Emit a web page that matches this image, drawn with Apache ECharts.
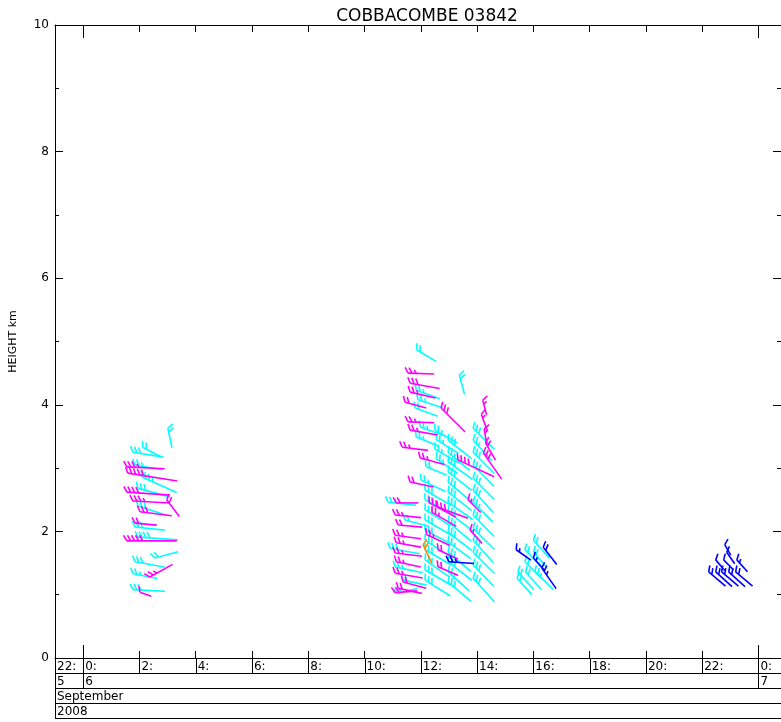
<!DOCTYPE html>
<html>
<head>
<meta charset="utf-8">
<script src="https://cdn.jsdelivr.net/npm/echarts@6/dist/echarts.min.js"></script>
<style>
  html, body { margin: 0; padding: 0; background: #fff; }
  #chart { width: 781px; height: 722px; }
</style>
</head>
<body>
<div id="chart"></div>
<script>
// hours after 00:00 on 6 September 2008, height in km
// each barb: [time (h), height (km), wind direction (deg, from), speed (kt)]
var cyanBarbs = [
    // 02-03 h
    [3.01, 3.63, 348, 20], [1.77, 3.25, 279, 31], [2.12, 3.33, 298, 21], [1.84, 3.05, 280, 28],
    [2.09, 2.86, 294, 38], [1.95, 2.68, 285, 33], [1.95, 2.40, 288, 30], [1.84, 2.07, 276, 30],
    [1.95, 1.91, 274, 40], [2.55, 1.58, 255, 24], [1.84, 1.52, 280, 30], [1.77, 1.33, 281, 25],
    [1.77, 1.08, 273, 32],
    // 11-14 h
    [11.85, 4.87, 301, 23], [13.37, 4.47, 345, 20],
    [11.84, 4.23, 290, 25], [11.90, 4.08, 288, 26], [11.80, 3.95, 290, 24], [11.98, 3.65, 290, 27],
    [11.84, 3.49, 292, 25], [12.19, 3.02, 292, 22], [12.01, 2.81, 295, 27],
    [12.50, 3.60, 300, 26], [12.55, 3.45, 302, 26], [12.50, 3.30, 300, 28], [12.55, 3.15, 305, 26],
    [10.84, 2.46, 276, 28], [11.44, 2.18, 285, 24], [10.91, 1.73, 280, 30], [11.09, 1.44, 282, 28],
    [11.37, 1.23, 282, 24], [11.20, 1.02, 255, 20],
    [12.15, 2.65, 300, 30], [12.15, 2.50, 298, 32], [12.15, 2.34, 302, 30], [12.15, 2.18, 300, 34],
    [12.15, 2.02, 298, 30], [12.15, 1.86, 303, 32], [12.15, 1.71, 300, 30], [12.15, 1.55, 305, 30],
    [12.15, 1.39, 300, 32], [12.15, 1.23, 302, 30],
    [12.97, 3.44, 308, 30], [12.97, 3.25, 310, 28], [12.97, 3.10, 306, 30], [12.97, 2.94, 308, 30],
    [12.97, 2.78, 310, 32], [12.97, 2.62, 308, 30], [12.97, 2.46, 305, 30], [12.97, 2.31, 308, 32],
    [12.97, 2.15, 310, 30], [12.97, 1.99, 308, 30], [12.97, 1.83, 306, 28], [12.97, 1.67, 310, 30],
    [12.97, 1.52, 308, 30], [12.97, 1.36, 312, 28], [12.97, 1.20, 310, 30],
    [13.86, 3.63, 315, 30], [13.86, 3.44, 318, 28], [13.86, 3.25, 315, 30], [13.86, 3.05, 316, 30],
    [13.86, 2.84, 315, 30], [13.86, 2.65, 318, 30], [13.86, 2.46, 315, 28], [13.86, 2.26, 316, 30],
    [13.86, 2.05, 315, 30], [13.86, 1.86, 318, 30], [13.86, 1.67, 315, 30], [13.86, 1.47, 316, 30],
    [13.86, 1.26, 318, 32],
    // 15-16 h
    [16.00, 1.86, 318, 24], [15.70, 1.71, 315, 22], [16.00, 1.67, 318, 20], [15.70, 1.52, 315, 24],
    [15.45, 1.36, 318, 24], [15.72, 1.36, 318, 24], [16.05, 1.37, 315, 26], [15.42, 1.26, 318, 22]
];

var magentaBarbs = [
    // 01-03 h
    [1.55, 3.02, 273, 38], [1.59, 2.92, 279, 50], [1.55, 2.62, 274, 43], [1.77, 2.48, 273, 37],
    [2.97, 2.50, 323, 21], [2.02, 2.31, 277, 32], [1.84, 2.13, 275, 22], [1.55, 1.85, 270, 50],
    [2.37, 1.28, 241, 26], [2.02, 1.04, 290, 12],
    // 11-14 h
    [11.55, 4.50, 272, 26], [11.62, 4.34, 280, 30], [11.62, 4.20, 283, 26], [11.44, 4.04, 285, 22],
    [12.72, 3.95, 315, 34], [11.55, 3.73, 272, 26], [11.62, 3.60, 280, 28], [11.34, 3.33, 277, 26],
    [11.98, 3.16, 285, 25], [11.62, 2.78, 282, 24],
    [11.13, 2.45, 270, 22], [11.09, 2.26, 276, 26], [11.20, 2.10, 275, 24], [11.09, 1.94, 278, 26],
    [11.13, 1.82, 280, 25], [11.09, 1.66, 277, 27], [11.13, 1.52, 282, 25], [11.09, 1.34, 280, 28],
    [11.37, 1.20, 285, 24], [11.09, 1.03, 265, 22], [11.20, 1.10, 282, 24],
    [12.30, 2.45, 298, 30], [12.40, 2.30, 300, 28], [12.61, 2.38, 290, 32], [12.20, 1.95, 295, 26],
    [12.61, 1.71, 295, 22], [12.61, 1.44, 293, 22], [13.68, 2.50, 315, 18], [13.75, 2.02, 318, 18],
    [13.32, 3.13, 295, 40], [14.22, 3.24, 325, 32],
    [14.20, 4.07, 345, 15], [14.15, 3.85, 340, 18], [14.25, 3.62, 350, 16], [14.30, 3.40, 330, 20]
];

var blueBarbs = [
    [13.00, 1.52, 274, 25],
    [15.39, 1.71, 305, 18], [16.35, 1.75, 322, 22], [16.00, 1.58, 318, 17], [16.30, 1.42, 325, 25],
    [22.80, 1.79, 330, 12], [22.87, 1.67, 325, 14],
    [22.48, 1.55, 320, 14], [22.76, 1.55, 315, 14], [23.23, 1.55, 318, 16],
    [22.23, 1.36, 310, 22], [22.48, 1.36, 312, 22], [22.69, 1.36, 310, 22], [22.94, 1.36, 312, 22],
    [23.19, 1.36, 310, 22]
];

var orangeBarbs = [
    [12.08, 1.79, 335, 20]
];

var hourTicks = [0, 2, 4, 6, 8, 10, 12, 14, 16, 18, 20, 22, 24];
var dayTicks = [0, 24];
var hourLabelPos = [-1, 0, 2, 4, 6, 8, 10, 12, 14, 16, 18, 20, 22, 24];
var hourLabels = ['22:', '0:', '2:', '4:', '6:', '8:', '10:', '12:', '14:', '16:', '18:', '20:', '22:', '0:'];
var dayLabelPos = [-1, 0, 24];
var dayLabels = ['5', '6', '7'];
var monthLabel = 'September';
var yearLabel = '2008';

var chart = echarts.init(document.getElementById('chart'));
var FONT = 'DejaVu Sans';

function barb(params, api) {
    var p = api.coord([api.value(0), api.value(1)]);
    var dir = api.value(2), spd = api.value(3);
    var color = api.visual('color');
    var b = (dir + 180) * Math.PI / 180;
    var ux = Math.sin(b), uy = -Math.cos(b);          // screen unit along the shaft
    var mx = Math.sin(b), my = Math.cos(b);            // same, y up
    var th = 120 * Math.PI / 180;
    var fx = mx * Math.cos(th) - my * Math.sin(th);
    var fy = -(mx * Math.sin(th) + my * Math.cos(th));
    var len = spd;
    var kids = [{
        type: 'line',
        shape: {x1: p[0], y1: p[1], x2: p[0] + ux * len, y2: p[1] + uy * len},
        style: {stroke: color, lineWidth: 1.6}
    }];
    var full = Math.floor(spd / 10), half = (spd % 10) >= 5 ? 1 : 0;
    for (var i = 0; i < full + half; i++) {
        var fl = i < full ? 6.5 : 4;
        var bx = p[0] + ux * i * 4, by = p[1] + uy * i * 4;
        kids.push({
            type: 'line',
            shape: {x1: bx, y1: by, x2: bx + fx * fl, y2: by + fy * fl},
            style: {stroke: color, lineWidth: 1.6}
        });
    }
    return {type: 'group', children: kids};
}

function barbSeries(name, data, color) {
    return {
        name: name, type: 'custom', renderItem: barb, data: data,
        encode: {x: 0, y: 1}, itemStyle: {color: color}, silent: true
    };
}

function xAx(pos, ticks, len, line) {
    return {
        type: 'value', position: pos, min: -1, max: 24.8,
        axisLine: {show: line, onZero: false, lineStyle: {color: '#000', width: 1}},
        axisTick: {show: true, inside: true, length: len, customValues: ticks, lineStyle: {color: '#000', width: 1}},
        axisLabel: {show: false}, splitLine: {show: false}
    };
}

function yAx(pos, labels) {
    return {
        type: 'value', position: pos, min: 0, max: 10, interval: 2,
        axisLine: {show: true, onZero: false, lineStyle: {color: '#000', width: 1}},
        axisTick: {show: true, inside: true, length: 8, lineStyle: {color: '#000'}},
        minorTick: {show: true, splitNumber: 2, length: 4, lineStyle: {color: '#000'}},
        axisLabel: {show: labels, color: '#000', fontSize: 12, fontFamily: FONT, margin: 6},
        splitLine: {show: false},
        name: labels ? 'HEIGHT km' : '', nameLocation: 'middle', nameGap: 36,
        nameTextStyle: {color: '#000', fontSize: 11, fontFamily: FONT}
    };
}

var option = {
    animation: false,
    backgroundColor: '#fff',
    title: {
        text: 'COBBACOMBE 03842', left: 422, top: 3, textAlign: 'center',
        textStyle: {color: '#000', fontSize: 17, fontWeight: 'normal', fontFamily: FONT}
    },
    grid: {left: 55, top: 25, width: 727, height: 633},
    xAxis: [
        xAx('bottom', hourTicks, 7, true),
        xAx('top', hourTicks, 7, true),
        xAx('bottom', dayTicks, 13, false),
        xAx('top', dayTicks, 13, false)
    ],
    yAxis: [yAx('left', true), yAx('right', false)],
    series: [
        barbSeries('cyan', cyanBarbs, '#00ffff'),
        barbSeries('magenta', magentaBarbs, '#ff00ff'),
        barbSeries('orange', orangeBarbs, '#ff8c00'),
        barbSeries('blue', blueBarbs, '#0000ff')
    ]
};
chart.setOption(option);

// date rows under the plot
var rows = [658, 673, 688, 703, 718];
var x0 = 55, x1 = 781;
var g = [];
function px(v) { return chart.convertToPixel({xAxisIndex: 0}, v); }
function ln(xa, ya, xb, yb) {
    g.push({type: 'line', shape: {x1: xa, y1: ya, x2: xb, y2: yb}, style: {stroke: '#000', lineWidth: 1}, silent: true});
}
function tx(x, y, s) {
    g.push({type: 'text', x: x, y: y, style: {text: s, fill: '#000', font: '12px "' + FONT + '"', textVerticalAlign: 'middle'}, silent: true});
}
rows.forEach(function (y) { ln(x0, y + 0.5, x1, y + 0.5); });
ln(x0 + 0.5, rows[0], x0 + 0.5, rows[4]);
hourTicks.forEach(function (h) { var x = Math.round(px(h)) + 0.5; ln(x, rows[0], x, rows[1]); });
dayTicks.forEach(function (h) { var x = Math.round(px(h)) + 0.5; ln(x, rows[1], x, rows[2]); });
hourLabelPos.forEach(function (h, i) { tx((h < 0 ? x0 : px(h)) + 2, (rows[0] + rows[1]) / 2 + 1, hourLabels[i]); });
dayLabelPos.forEach(function (h, i) { tx((h < 0 ? x0 : px(h)) + 2, (rows[1] + rows[2]) / 2 + 1, dayLabels[i]); });
tx(x0 + 2, (rows[2] + rows[3]) / 2 + 1, monthLabel);
tx(x0 + 2, (rows[3] + rows[4]) / 2 + 1, yearLabel);
chart.setOption({graphic: g});
</script>
</body>
</html>
